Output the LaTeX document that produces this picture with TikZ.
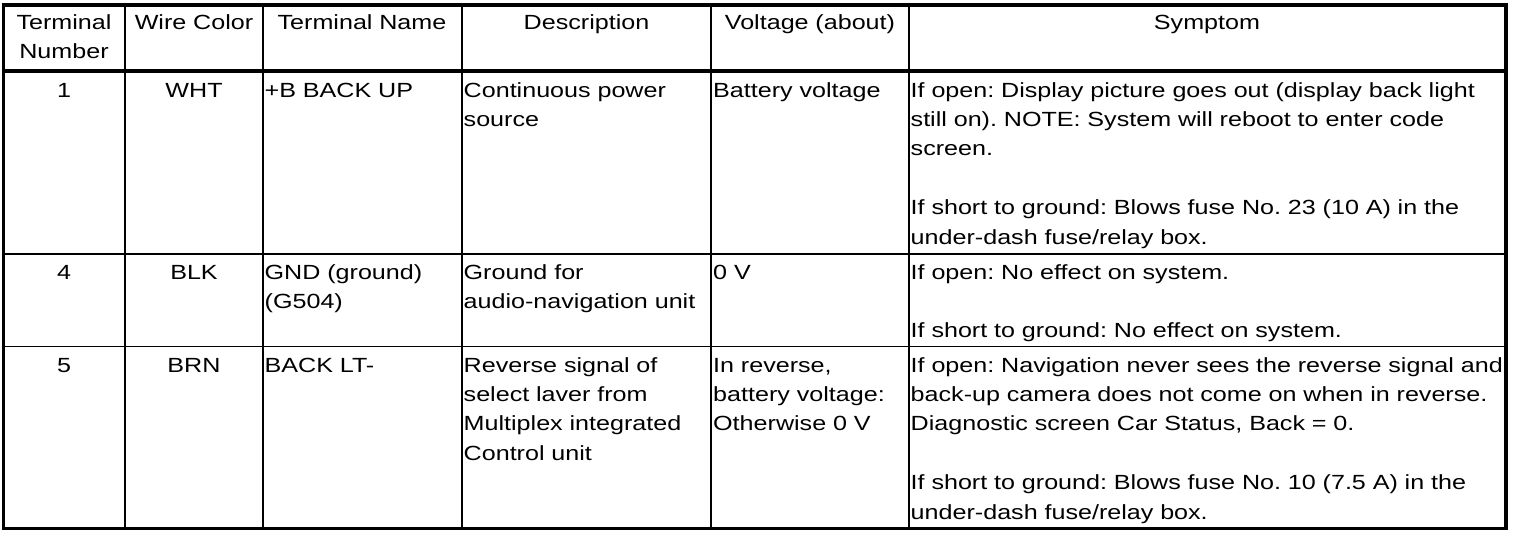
\documentclass[tikz,border=0pt]{standalone}
\usepackage{fontspec}
\setmainfont{Liberation Sans}[FakeStretch=1.225]
\frenchspacing
\begin{document}
\begin{tikzpicture}[x=1pt,y=-1pt,
  cellL/.style={anchor=base west,inner sep=0pt,text width=800pt,align=left},
  cellC/.style={anchor=base,inner sep=0pt,text width=120pt,align=center},
  txt/.style={font=\fontsize{20.5}{29.4}\selectfont},
  outer/.style={line width=3.5pt},
  col/.style={line width=2pt},
  rowl/.style={line width=1.8pt}]
\useasboundingbox (0,0) rectangle (1520,536);
% grid
\draw[col] (125,5) -- (125,528.5);
\draw[col] (262.8,5) -- (262.8,528.5);
\draw[col] (462,5) -- (462,528.5);
\draw[col] (711,5) -- (711,528.5);
\draw[col] (908.5,5) -- (908.5,528.5);
\draw[outer] (3.5,71) -- (1506,71);
\draw[rowl] (3.5,254) -- (1506,254);
\draw[rowl] (3.5,346.5) -- (1506,346.5);
\draw[outer] (3.5,5) rectangle (1506,528.5);
% header
\node[cellC,txt] (h1) at (64,29.5) {Terminal\\Number};
\node[cellC,txt] (h2) at (194,29.5) {Wire Color};
\node[cellC,txt,text width=190pt] (h3) at (362,29.5) {Terminal Name};
\node[cellC,txt,text width=240pt] (h4) at (586.5,29.5) {Description};
\node[cellC,txt,text width=190pt] (h5) at (810,29.5) {Voltage (about)};
\node[cellC,txt,text width=500pt] (h6) at (1207,29.5) {Symptom};
% row 1
\node[cellC,txt] (a1) at (64,97) {1};
\node[cellC,txt] (a2) at (194,97) {WHT};
\node[cellL,txt] (a3) at (264.5,97) {+B BACK UP};
\node[cellL,txt] (a4) at (463.5,97) {Continuous power\\source};
\node[cellL,txt] (a5) at (713,97) {Battery voltage};
\node[cellL,txt] (a6) at (910.5,97) {If open: Display picture goes out (display back light\\still on). NOTE: System will reboot to enter code\\screen.\\[29.4pt]If short to ground: Blows fuse No. 23 (10 A) in the\\under-dash fuse/relay box.};
% row 4
\node[cellC,txt] (b1) at (64,279) {4};
\node[cellC,txt] (b2) at (194,279) {BLK};
\node[cellL,txt] (b3) at (264.5,279) {GND (ground)\\(G504)};
\node[cellL,txt] (b4) at (463.5,279) {Ground for\\audio-navigation unit};
\node[cellL,txt] (b5) at (713,279) {0 V};
\node[cellL,txt] (b6) at (910.5,279) {If open: No effect on system.\\[29.4pt]If short to ground: No effect on system.};
% row 5
\node[cellC,txt] (c1) at (64,372) {5};
\node[cellC,txt] (c2) at (194,372) {BRN};
\node[cellL,txt] (c3) at (264.5,372) {BACK LT-};
\node[cellL,txt] (c4) at (463.5,372) {Reverse signal of\\select laver from\\Multiplex integrated\\Control unit};
\node[cellL,txt] (c5) at (713,372) {In reverse,\\battery voltage:\\Otherwise 0 V};
\node[cellL,txt] (c6) at (910.5,372) {If open: Navigation never sees the reverse signal and\\back-up camera does not come on when in reverse.\\Diagnostic screen Car Status, Back = 0.\\[29.4pt]If short to ground: Blows fuse No. 10 (7.5 A) in the\\under-dash fuse/relay box.};
\end{tikzpicture}
\end{document}
